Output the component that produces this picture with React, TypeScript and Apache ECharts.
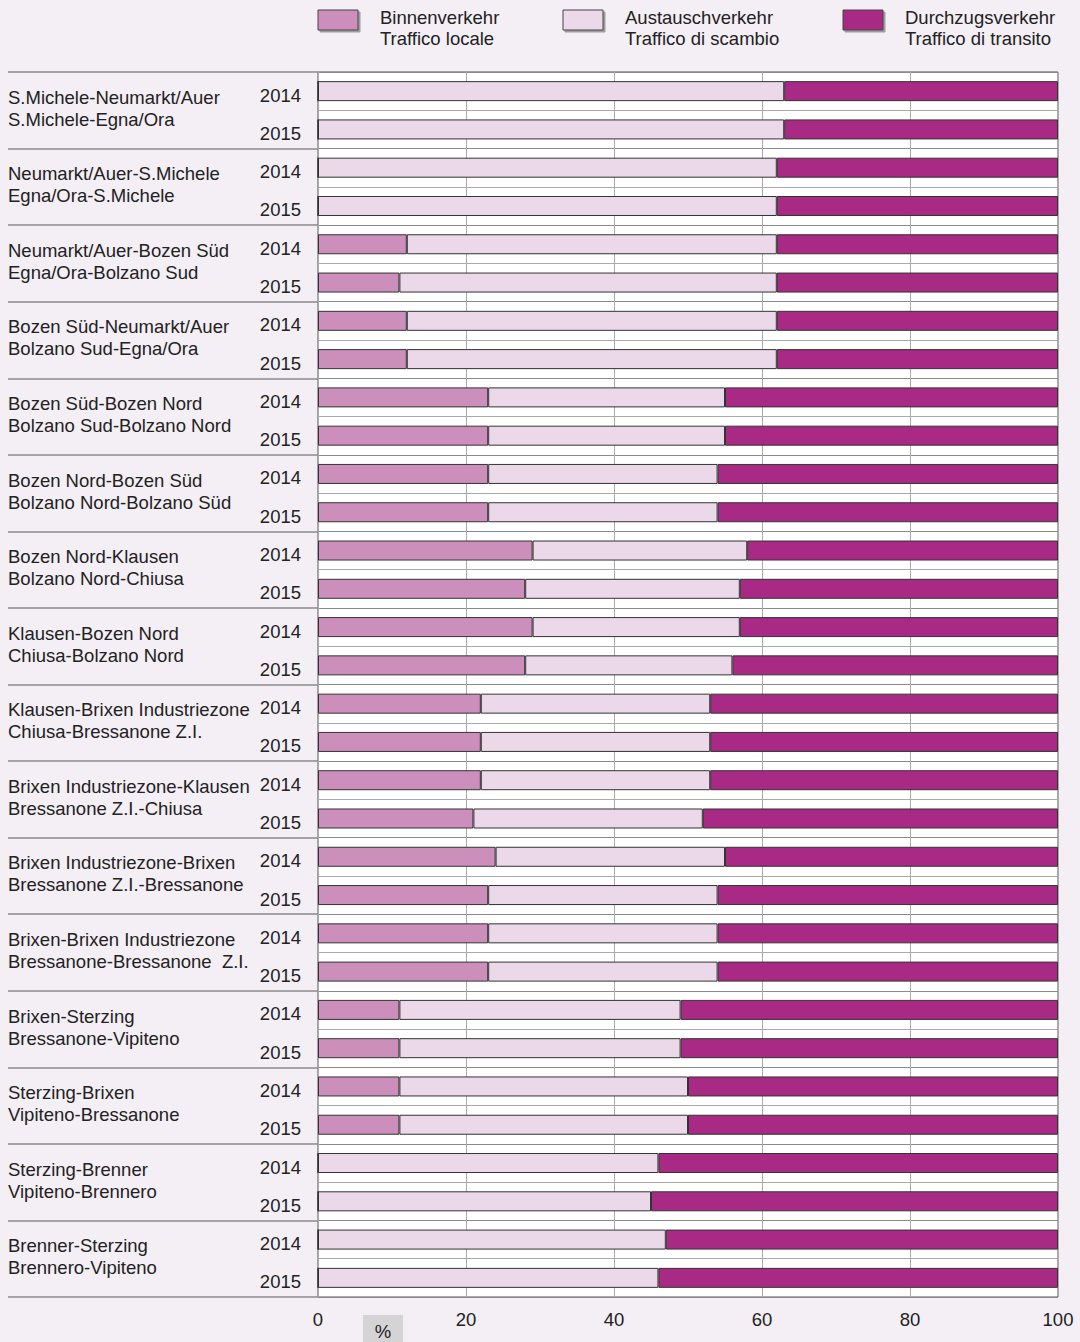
import React, { useEffect, useRef } from "react";
import * as echarts from "echarts";

const routes = [
  "S.Michele-Neumarkt/Auer\nS.Michele-Egna/Ora",
  "Neumarkt/Auer-S.Michele\nEgna/Ora-S.Michele",
  "Neumarkt/Auer-Bozen Süd\nEgna/Ora-Bolzano Sud",
  "Bozen Süd-Neumarkt/Auer\nBolzano Sud-Egna/Ora",
  "Bozen Süd-Bozen Nord\nBolzano Sud-Bolzano Nord",
  "Bozen Nord-Bozen Süd\nBolzano Nord-Bolzano Süd",
  "Bozen Nord-Klausen\nBolzano Nord-Chiusa",
  "Klausen-Bozen Nord\nChiusa-Bolzano Nord",
  "Klausen-Brixen Industriezone\nChiusa-Bressanone Z.I.",
  "Brixen Industriezone-Klausen\nBressanone Z.I.-Chiusa",
  "Brixen Industriezone-Brixen\nBressanone Z.I.-Bressanone",
  "Brixen-Brixen Industriezone\nBressanone-Bressanone  Z.I.",
  "Brixen-Sterzing\nBressanone-Vipiteno",
  "Sterzing-Brixen\nVipiteno-Bressanone",
  "Sterzing-Brenner\nVipiteno-Brennero",
  "Brenner-Sterzing\nBrennero-Vipiteno",
];
const years = ["2014", "2015"];

// values per row (route x year), in order 2014, 2015 for each route
const binnen = [
  0, 0, 0, 0, 12, 11, 12, 12, 23, 23, 23, 23, 29, 28, 29, 28,
  22, 22, 22, 21, 24, 23, 23, 23, 11, 11, 11, 11, 0, 0, 0, 0,
];
const austausch = [
  63, 63, 62, 62, 50, 51, 50, 50, 32, 32, 31, 31, 29, 29, 28, 28,
  31, 31, 31, 31, 31, 31, 31, 31, 38, 38, 39, 39, 46, 45, 47, 46,
];
const durchzugs = [
  37, 37, 38, 38, 38, 38, 38, 38, 45, 45, 46, 46, 42, 43, 43, 44,
  47, 47, 47, 48, 45, 46, 46, 46, 51, 51, 50, 50, 54, 55, 53, 54,
];
const xTicks = [0, 20, 40, 60, 80, 100];

const seriesNames = [
  "Binnenverkehr\nTraffico locale",
  "Austauschverkehr\nTraffico di scambio",
  "Durchzugsverkehr\nTraffico di transito",
];
const colors = ["#cc8fbb", "#ebd8e8", "#a82a85"];

const FONT = "'Liberation Sans', Arial, sans-serif";
const FS = 18.5;
const TXT = "#222222";

export default function App() {
  const ref = useRef<HTMLDivElement>(null);
  useEffect(() => {
    if (!ref.current) return;
    const chart = echarts.init(ref.current, null, { renderer: "svg" });
    const rowKeys: string[] = [];
    routes.forEach((_, i) => years.forEach((y) => rowKeys.push(i + "|" + y)));
    const values = [binnen, austausch, durchzugs];
    const legendX = [318, 563, 843];

    const graphic: any[] = [];
    seriesNames.forEach((n, i) => {
      graphic.push({
        type: "rect",
        shape: { x: legendX[i], y: 10, width: 40, height: 20 },
        style: {
          fill: colors[i],
          stroke: "#444",
          lineWidth: 1,
          shadowColor: "rgba(0,0,0,0.35)",
          shadowOffsetX: 2,
          shadowOffsetY: 2,
          shadowBlur: 1,
        },
      });
      graphic.push({
        type: "text",
        x: legendX[i] + 62,
        y: 7,
        style: {
          text: n,
          font: `${FS}px ${FONT}`,
          fill: TXT,
          lineHeight: 21,
        },
      });
    });
    graphic.push({
      type: "rect",
      shape: { x: 363, y: 1315, width: 40, height: 27 },
      style: { fill: "#d4d4d4" },
    });
    graphic.push({
      type: "text",
      x: 383,
      y: 1331,
      style: {
        text: "%",
        font: `${FS}px ${FONT}`,
        fill: TXT,
        align: "center",
        verticalAlign: "middle",
      },
    });

    chart.setOption({
      animation: false,
      backgroundColor: "#f4eef5",
      textStyle: { fontFamily: FONT },
      grid: {
        left: 318,
        top: 72,
        right: 22,
        bottom: 45,
        show: true,
        backgroundColor: "#ffffff",
        borderColor: "#555",
        borderWidth: 1,
      },
      xAxis: {
        type: "value",
        min: 0,
        max: 100,
        interval: 20,
        axisLine: { show: false },
        axisTick: { show: false },
        splitLine: { show: true, lineStyle: { color: "#aaaaaa", width: 1 } },
        axisLabel: {
          fontSize: FS,
          color: TXT,
          margin: 13,
          formatter: (v: number) => (xTicks.includes(v) ? String(v) : ""),
        },
      },
      yAxis: [
        {
          type: "category",
          data: rowKeys,
          inverse: true,
          axisLine: { show: false },
          axisTick: { show: false },
          splitLine: { show: true, lineStyle: { color: "#aaaaaa", width: 1 } },
          axisLabel: {
            margin: 17,
            formatter: (v: string) => "{y|" + v.split("|")[1] + "}",
            rich: {
              y: {
                fontSize: FS,
                color: TXT,
                fontFamily: FONT,
                padding: [8, 0, 0, 0],
              },
            },
          },
        },
        {
          type: "category",
          data: routes,
          inverse: true,
          position: "left",
          axisLine: { show: false },
          axisTick: {
            show: true,
            length: 310,
            lineStyle: { color: "#8a8a8a", width: 1.5 },
          },
          splitLine: { show: true, lineStyle: { color: "#8a8a8a", width: 1 } },
          axisLabel: {
            align: "left",
            margin: 310,
            formatter: (v: string) =>
              v
                .split("\n")
                .map((s) => "{r|" + s + "}")
                .join("\n"),
            rich: {
              r: {
                fontSize: FS,
                color: TXT,
                fontFamily: FONT,
                lineHeight: 22,
              },
            },
            padding: [0, 0, 4, 0],
          },
        },
      ],
      series: seriesNames.map((n, i) => ({
        name: n,
        type: "bar",
        stack: "total",
        yAxisIndex: 0,
        barWidth: 20,
        data: values[i],
        itemStyle: { color: colors[i], borderColor: "#333", borderWidth: 1 },
      })),
      graphic,
    });
    return () => chart.dispose();
  }, []);
  return (
    <div
      ref={ref}
      style={{
        position: "absolute",
        left: 0,
        top: 0,
        width: 1080,
        height: 1342,
        background: "#f4eef5",
      }}
    />
  );
}
